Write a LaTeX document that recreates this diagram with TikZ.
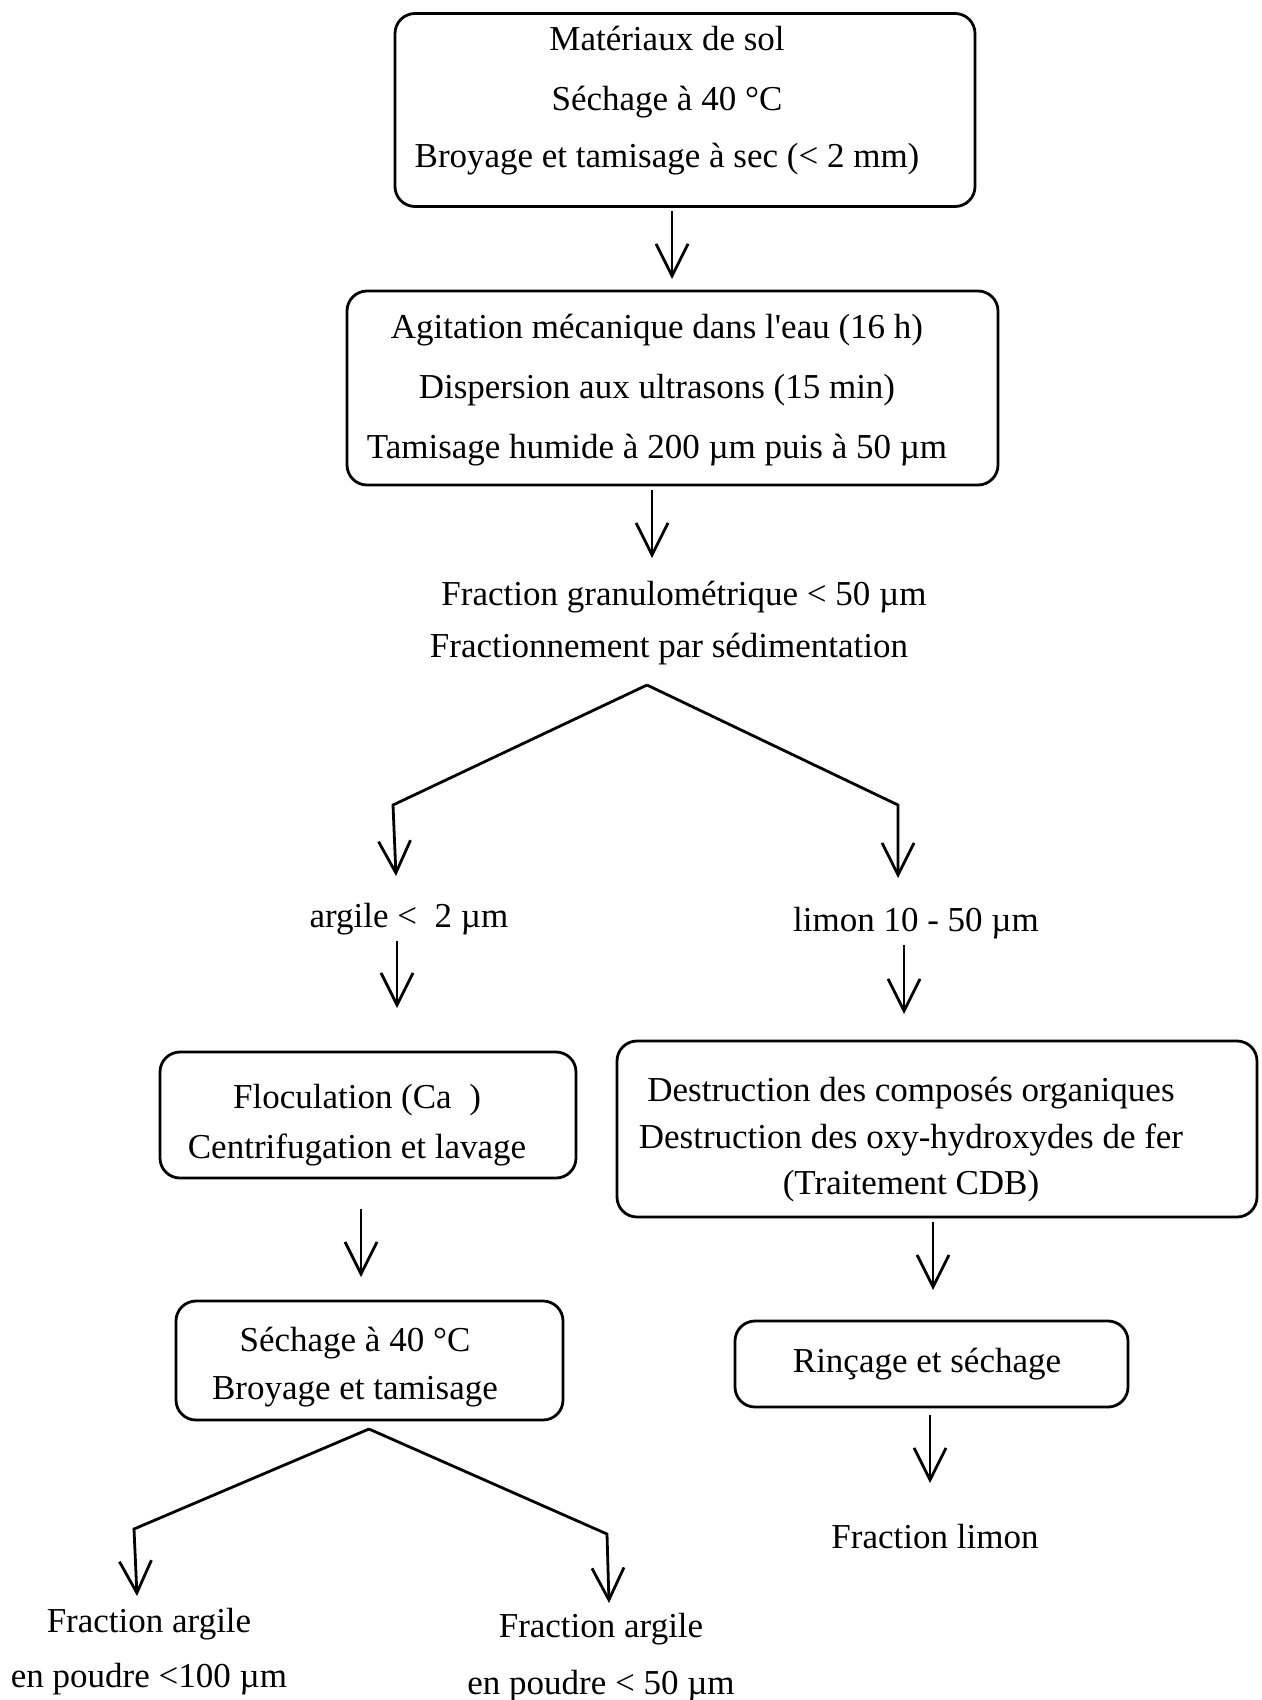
\documentclass[tikz,border=0pt]{standalone}
\usepackage{fontspec}
\setmainfont{Liberation Serif}
\usetikzlibrary{arrows.meta}
\begin{document}
\begin{tikzpicture}[x=1pt,y=-1pt,
  every node/.style={font=\fontsize{35}{42}\selectfont, inner sep=0pt},
  box/.style={draw, line width=2.8pt, rounded corners=20pt},
  txt/.style={align=center},
  arr/.style={line width=2.8pt, -{Straight Barb[length=32pt,width=32pt]}}]
\useasboundingbox[fill=white] (0,0) rectangle (1261,1700);

% boxes
\node[box, minimum width=580pt, minimum height=193pt] (b1) at (685,110) {};
\node[box, minimum width=651pt, minimum height=194pt] (b2) at (672.5,388) {};
\node[box, minimum width=416pt, minimum height=126pt] (b3) at (368,1115) {};
\node[box, minimum width=640pt, minimum height=176pt] (b4) at (937,1129) {};
\node[box, minimum width=387pt, minimum height=119pt] (b5) at (369.5,1360.5) {};
\node[box, minimum width=393pt, minimum height=86pt] (b6) at (931.5,1364) {};

% box texts
\node[txt] (b1t) at (667,101)
  {Matériaux de sol\\[18pt] Séchage à 40 °C\\[15pt] Broyage et tamisage à sec (< 2 mm)};
\node[txt] (b2t) at (657,390.5)
  {Agitation mécanique dans l\textquotesingle eau (16 h)\\[18pt] Dispersion aux ultrasons (15 min)\\[18pt] Tamisage humide à 200 µm puis à 50 µm};
\node[txt] (b3t) at (357,1125.5)
  {Floculation (Ca\ \ )\\[8pt] Centrifugation et lavage};
\node[txt] (b4t) at (911,1140)
  {Destruction des composés organiques\\[5pt] Destruction des oxy-hydroxydes de fer\\[4pt] (Traitement CDB)};
\node[txt] (b5t) at (355,1367.5)
  {Séchage à 40 °C\\[6pt] Broyage et tamisage};
\node[txt] (b6t) at (927,1364.5) {Rinçage et séchage};

% free texts
\node (t1) at (684,597) {Fraction granulométrique < 50 µm};
\node (t2) at (669,649) {Fractionnement par sédimentation};
\node (t3) at (409,919) {argile <\ \ 2 µm};
\node (t4) at (916,923) {limon 10 - 50 µm};
\node (t5) at (935,1537) {Fraction limon};
\node (t6) at (149,1624) {Fraction argile};
\node (t7) at (149,1679) {en poudre <100 µm};
\node (t8) at (601,1629) {Fraction argile};
\node (t9) at (601,1686) {en poudre < 50 µm};

% arrow coordinates
\coordinate (a1s) at (672,211);  \coordinate (a1e) at (672,279);
\coordinate (a2s) at (652,490);  \coordinate (a2e) at (652,558);
\coordinate (ap1) at (647,685);
\coordinate (lc1) at (393,805);  \coordinate (lt1) at (396,876);
\coordinate (rc1) at (898,805);  \coordinate (rt1) at (898,878);
\coordinate (a3s) at (397,941);  \coordinate (a3e) at (397,1008);
\coordinate (a4s) at (904,945);  \coordinate (a4e) at (904,1014);
\coordinate (a5s) at (361,1209); \coordinate (a5e) at (361,1277);
\coordinate (a6s) at (933,1222); \coordinate (a6e) at (933,1290);
\coordinate (a7s) at (930,1415); \coordinate (a7e) at (930,1483);
\coordinate (ap2) at (369,1429);
\coordinate (lc2) at (134,1529); \coordinate (lt2) at (137,1596);
\coordinate (rc2) at (607,1534); \coordinate (rt2) at (609,1603);

\draw[arr] (a1s) -- (a1e);
\draw[arr] (a2s) -- (a2e);
\draw[arr] (ap1) -- (lc1) -- (lt1);
\draw[arr] (ap1) -- (rc1) -- (rt1);
\draw[arr] (a3s) -- (a3e);
\draw[arr] (a4s) -- (a4e);
\draw[arr] (a5s) -- (a5e);
\draw[arr] (a6s) -- (a6e);
\draw[arr] (a7s) -- (a7e);
\draw[arr] (ap2) -- (lc2) -- (lt2);
\draw[arr] (ap2) -- (rc2) -- (rt2);
\end{tikzpicture}
\end{document}
